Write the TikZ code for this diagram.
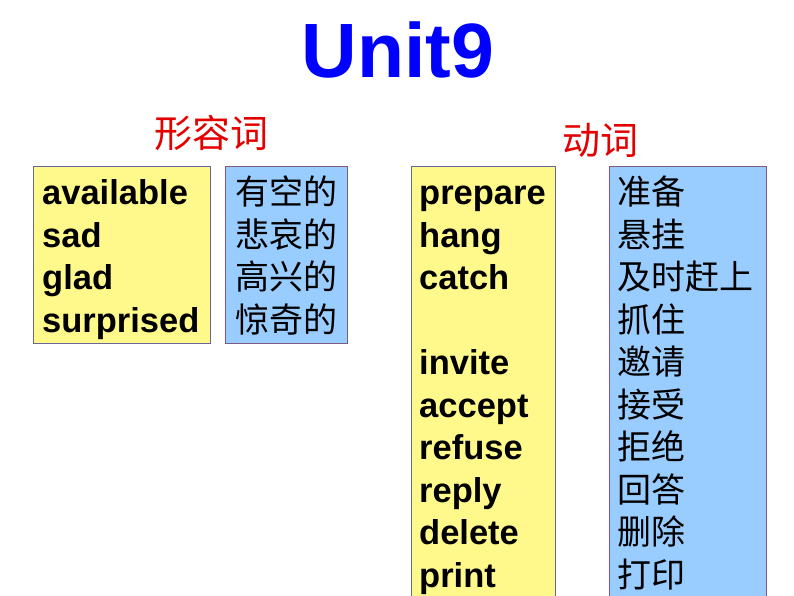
\documentclass[tikz,border=0pt]{standalone}
\usepackage{fontspec}
\setmainfont{Liberation Sans}
\newfontfamily\cjk{Noto Sans CJK SC}
\begin{document}
\begin{tikzpicture}[x=1pt,y=-1pt,
 en/.style={anchor=base west,inner sep=0,font=\fontsize{34.5}{34}\selectfont\bfseries},
 zh/.style={anchor=base west,inner sep=0,font=\fontsize{34}{34}\selectfont\cjk},
 ybox/.style={fill=yellow!45,draw=gray!80!blue,line width=0.8pt},
 bbox/.style={fill={rgb,255:red,153;green,204;blue,255},draw=gray!70!violet,line width=0.8pt},
 lab/.style={text=red!90!black,font=\fontsize{38}{38}\selectfont\cjk}]
\useasboundingbox (0,0) rectangle (794,596);
\node[text=blue,font=\fontsize{77}{77}\selectfont\bfseries] (title) at (398,50) {Unit9};
\node[lab] (adj) at (211,133) {形容词};
\node[lab] (verb) at (600,140) {动词};
\path[ybox] (33,166) rectangle (210,343);
\path[bbox] (225,166) rectangle (347,343);
\path[ybox] (411,166) rectangle (555,600);
\path[bbox] (609,166) rectangle (766,600);
\foreach \t [count=\i] in {available,sad,glad,surprised}
  \node[en] (a\i) at (42,162+42.5*\i) {\t};
\foreach \t [count=\i] in {有空的,悲哀的,高兴的,惊奇的}
  \node[zh] (b\i) at (235,162+42.5*\i) {\t};
\foreach \t [count=\i] in {prepare,hang,catch,{},invite,accept,refuse,reply,delete,print}
  \node[en] (c\i) at (419,162+42.5*\i) {\t};
\foreach \t [count=\i] in {准备,悬挂,及时赶上,抓住,邀请,接受,拒绝,回答,删除,打印}
  \node[zh] (d\i) at (617,162+42.5*\i) {\t};
\end{tikzpicture}
\end{document}
